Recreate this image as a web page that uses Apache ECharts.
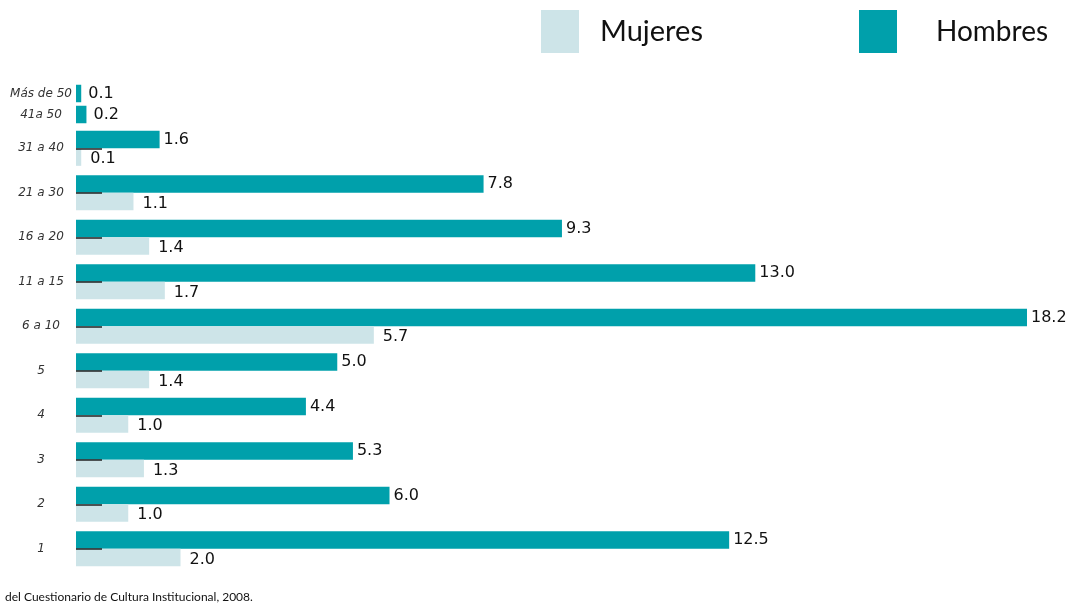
<!DOCTYPE html>
<html>
<head>
<meta charset="utf-8">
<script src="https://cdn.jsdelivr.net/npm/echarts@6/dist/echarts.min.js"></script>
<style>
  html, body { margin: 0; padding: 0; background: #fff; }
  #chart { width: 1070px; height: 604px; }
</style>
</head>
<body>
<div id="chart"></div>
<script>
// categorías (de abajo hacia arriba)
const categories = ["1", "2", "3", "4", "5", "6 a 10", "11 a 15", "16 a 20", "21 a 30", "31 a 40"];
const hombres = [12.5, 6.0, 5.3, 4.4, 5.0, 18.2, 13.0, 9.3, 7.8, 1.6];
const mujeres = [2.0, 1.0, 1.3, 1.0, 1.4, 5.7, 1.7, 1.4, 1.1, 0.1];
// las dos filas de arriba solo tienen hombres
const topCategories = ["41a 50", "Más de 50"];
const topHombres = [0.2, 0.1];

const colorH = "#00A0AB";
const colorM = "#CDE4E8";

const chart = echarts.init(document.getElementById("chart"));

const valueLabel = (dist, dy) => ({
  show: true,
  position: "right",
  distance: dist,
  offset: [0, dy || 0],
  fontFamily: "DejaVu Sans",
  fontSize: 16,
  color: "#111",
  formatter: (p) => p.value.toFixed(1),
});

const axisLabel = {
  align: "center",
  margin: 35,
  fontFamily: "DejaVu Sans",
  fontStyle: "italic",
  fontSize: 12,
  color: "#333",
};

const legendBase = {
  icon: "rect",
  itemWidth: 38,
  itemHeight: 43,
  top: 5,
  textStyle: {
    fontFamily: "Lato",
    fontSize: 29,
    color: "#111",
  },
};

chart.setOption({
  animation: false,
  title: {
    text: "del Cuestionario de Cultura Institucional, 2008.",
    left: 0,
    top: 586,
    textStyle: { fontFamily: "Lato", fontSize: 12, fontWeight: "normal", color: "#111" },
  },
  legend: [
    Object.assign({}, legendBase, {
      data: ["Mujeres"],
      left: 536,
      textStyle: Object.assign({}, legendBase.textStyle, { padding: [0, 0, 0, 16] }),
    }),
    Object.assign({}, legendBase, {
      data: ["Hombres"],
      left: 854,
      textStyle: Object.assign({}, legendBase.textStyle, { fontSize: 28, padding: [0, 0, 0, 34] }),
    }),
  ],
  grid: [
    { left: 76, right: 43, top: 126, height: 445 },
    { left: 76, right: 43, top: 83, height: 42 },
  ],
  xAxis: [
    { type: "value", gridIndex: 0, min: 0, max: 18.2, show: false },
    { type: "value", gridIndex: 1, min: 0, max: 18.2, show: false },
  ],
  yAxis: [
    {
      type: "category",
      gridIndex: 0,
      data: categories,
      z: 5,
      axisLine: { show: false },
      axisTick: {
        show: true,
        inside: true,
        length: 26,
        alignWithLabel: true,
        lineStyle: { color: "#222", width: 1.5 },
      },
      axisLabel: axisLabel,
    },
    {
      type: "category",
      gridIndex: 1,
      data: topCategories,
      axisLine: { show: false },
      axisTick: { show: false },
      axisLabel: axisLabel,
    },
  ],
  series: [
    {
      name: "Hombres",
      type: "bar",
      xAxisIndex: 0,
      yAxisIndex: 0,
      data: hombres,
      itemStyle: { color: colorH },
      barGap: "0%",
      barCategoryGap: "21%",
      label: valueLabel(4),
    },
    {
      name: "Mujeres",
      type: "bar",
      xAxisIndex: 0,
      yAxisIndex: 0,
      data: mujeres,
      itemStyle: { color: colorM },
      barGap: "0%",
      barCategoryGap: "21%",
      label: valueLabel(9, 2),
    },
    {
      name: "Hombres",
      type: "bar",
      xAxisIndex: 1,
      yAxisIndex: 1,
      data: topHombres,
      itemStyle: { color: colorH },
      barWidth: 17.5,
      label: valueLabel(7),
    },
  ],
});
</script>
</body>
</html>
